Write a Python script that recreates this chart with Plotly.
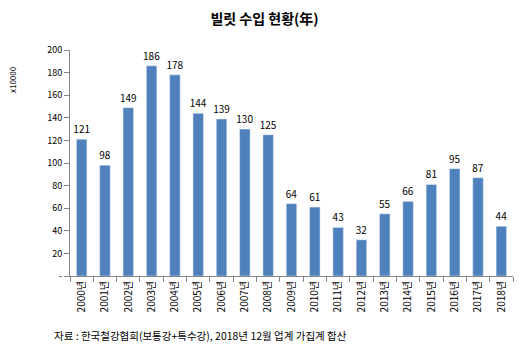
import plotly.graph_objects as go

years = [str(y) + "년" for y in range(2000, 2019)]
values = [121, 98, 149, 186, 178, 144, 139, 130, 125, 64, 61, 43, 32, 55, 66, 81, 95, 87, 44]
tick_vals = [0, 20, 40, 60, 80, 100, 120, 140, 160, 180, 200]
tick_text = ["-", "20", "40", "60", "80", "100", "120", "140", "160", "180", "200"]

font = "Malgun Gothic, Noto Sans CJK KR, sans-serif"

fig = go.Figure(go.Bar(
    x=years, y=values, marker_color="#4F81BD", width=0.45,
    text=[str(v) for v in values], textposition="outside",
    textfont=dict(size=10, color="#000000"), cliponaxis=False,
))

fig.update_layout(
    width=529, height=352, plot_bgcolor="white", paper_bgcolor="white",
    margin=dict(l=70, r=16, t=50, b=76),
    font=dict(family=font, size=9, color="#000000"),
    showlegend=False, bargap=0.55,
    uniformtext=dict(minsize=10, mode="show"),
    title=dict(text="<b>빌릿 수입 현황(年)</b>", x=0.5, xanchor="center", y=0.945, yanchor="middle",
               font=dict(size=14, family=font)),
    xaxis=dict(type="category", tickangle=-90, showline=True, linecolor="#868686",
               ticks="outside", ticklen=5, tickcolor="#868686", tickson="boundaries",
               tickfont=dict(size=10), showgrid=False),
    yaxis=dict(range=[0, 200], tickvals=tick_vals, ticktext=tick_text, showline=True,
               linecolor="#868686", ticks="outside", ticklen=5, tickcolor="#868686",
               showgrid=False, zeroline=False, tickfont=dict(size=9)),
    annotations=[
        dict(text="x10000", x=12, y=80, xref="paper", yref="paper", showarrow=False,
             textangle=-90, font=dict(size=8), xanchor="center", yanchor="middle"),
        dict(text="자료 : 한국철강협회(보통강+특수강), 2018년 12월 업계 가집계 합산", xref="paper", yref="paper",
             showarrow=False, font=dict(size=10.5), xanchor="left", yanchor="middle"),
    ],
)
pw = 529 - 70 - 16
ph = 352 - 50 - 76
fig.layout.annotations[0].x = (12 - 70) / pw
fig.layout.annotations[0].y = (276 - 80) / ph
fig.layout.annotations[1].x = (52 - 70) / pw
fig.layout.annotations[1].y = (276 - 335) / ph

fig.write_html("out.html")
